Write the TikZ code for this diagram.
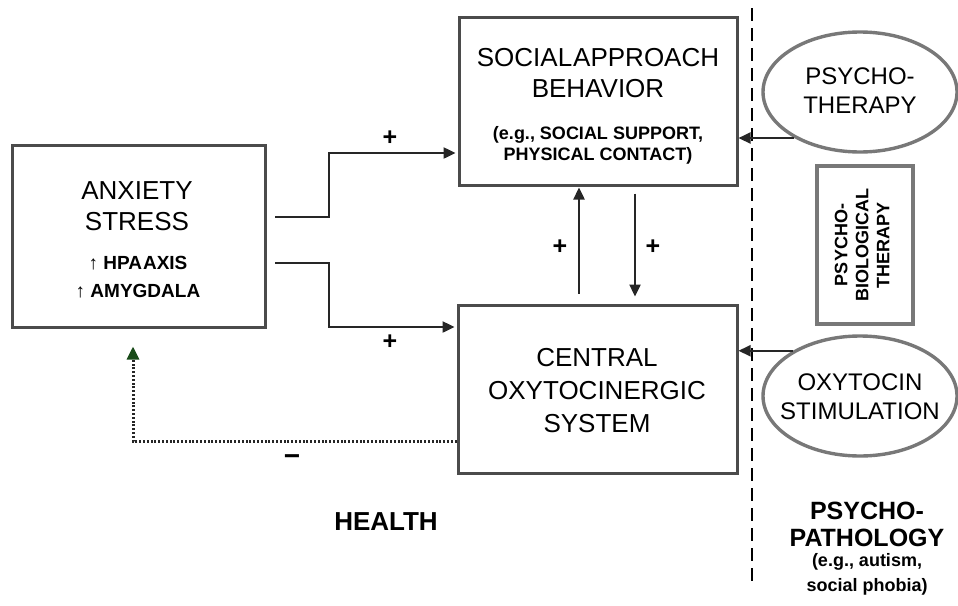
\documentclass[tikz,border=0pt]{standalone}
\usepackage{fontspec}
\setmainfont{Liberation Sans}
\usetikzlibrary{arrows.meta,shapes.geometric,calc}
\definecolor{boxline}{RGB}{75,75,75}
\definecolor{ovalline}{RGB}{120,120,120}
\definecolor{inkgreen}{RGB}{25,75,25}
\begin{document}
\begin{tikzpicture}[x=1pt,y=-1pt,
  panel/.style={draw=boxline,line width=3pt,inner sep=0pt},
  oval/.style={ellipse,draw=ovalline,line width=3.4pt,inner sep=0pt,
    minimum width=194pt,minimum height=120pt},
  ovaltext/.style={inner sep=0pt,align=center,font=\fontsize{24}{29}\selectfont},
  bigtext/.style={inner sep=0pt,align=center,font=\fontsize{26}{31}\selectfont},
  smalltext/.style={inner sep=0pt,align=center,font=\bfseries\fontsize{19}{28}\selectfont},
  heading/.style={inner sep=0pt,align=center,font=\bfseries\fontsize{25}{27}\selectfont},
  sign/.style={inner sep=0pt,font=\bfseries\fontsize{25}{25}\selectfont},
  link/.style={draw=black!85,line width=2.4pt,-{Triangle[length=12pt,width=11pt]}},
  feedback/.style={draw=black!85,line width=3pt,dash pattern=on 2pt off 1.8pt,
    -{Triangle[length=13pt,width=12pt,color=inkgreen]}},
  divider/.style={draw=black,line width=1.6pt,dash pattern=on 13pt off 7pt}]
  \path[use as bounding box] (0,0) rectangle (958,605);

  % boxes
  \node[panel,minimum width=253pt,minimum height=182pt] (anx) at (139,236) {};
  \node[panel,minimum width=278pt,minimum height=168pt] (soc) at (598,101) {};
  \node[panel,minimum width=279pt,minimum height=168pt] (cen) at (597.5,389) {};
  \node[panel,draw=ovalline,line width=4pt,minimum width=96pt,minimum height=158pt] (bio) at (865,245) {};

  % box texts
  \node[bigtext] (anxT) at (137,206) {ANXIETY\\STRESS};
  \node[smalltext] (anxS) at (138,277) {↑ HPA\kern1pt AXIS\\↑ AMYGDALA};
  \node[bigtext] (socT) at (598,73) {SOCIAL\kern1pt APPROACH\\BEHAVIOR};
  \node[smalltext,font=\bfseries\fontsize{18}{21}\selectfont] (socS) at (598,145) {(e.g., SOCIAL SUPPORT,\\PHYSICAL CONTACT)};
  \node[bigtext,font=\fontsize{26}{33}\selectfont] (cenT) at (597,391) {CENTRAL\\OXYTOCINERGIC\\SYSTEM};
  \node[smalltext,rotate=90,font=\bfseries\fontsize{18}{21}\selectfont] (bioT) at (862,245) {PSYCHO-\\BIOLOGICAL\\THERAPY};

  % interventions
  \node[oval] (psy) at (860,92) {};
  \node[ovaltext] (psyT) at (860,91) {PSYCHO-\\THERAPY};
  \node[oval] (oxy) at (860,396) {};
  \node[ovaltext] (oxyT) at (860,397) {OXYTOCIN\\STIMULATION};

  % divider between health and psychopathology
  \coordinate (divTop) at (752,8);
  \coordinate (divBot) at (752,582);
  \draw[divider] (divTop) -- (divBot);

  % headings
  \node[heading,font=\bfseries\fontsize{26}{27}\selectfont] (health) at (386,522) {HEALTH};
  \node[heading] (patho) at (867,524) {PSYCHO-\\PATHOLOGY};
  \node[smalltext,font=\bfseries\fontsize{18}{25}\selectfont] (pathoEx) at (867,574) {(e.g., autism,\\social phobia)};

  % connectors
  \draw[link,shorten <=8pt,shorten >=2pt] ($(anx.east)+(0,-19)$) -- ++(62,0) |- ($(soc.west)+(0,52)$);
  \draw[link,shorten <=8pt,shorten >=2pt] ($(anx.east)+(0,27)$) -- ++(62,0) |- ($(cen.west)+(0,-62)$);
  \draw[link,shorten >=1pt] ($(cen.north)+(-18.5,-10)$) -- ($(soc.south)+(-19,0)$);
  \draw[link] ($(soc.south)+(37,7)$) -- ($(cen.north)+(37.5,-7)$);
  \draw[link,line width=2pt] (psy.215) -- (psy.215 -| soc.east);
  \draw[link,line width=2pt] (oxy.146) -- (oxy.146 -| cen.east);
  \draw[feedback] ($(cen.west)+(0,52)$) -| ($(anx.south)+(-6,18)$);

  % signs
  \node[sign] (pTop) at (390,138) {+};
  \node[sign] (pBot) at (390,342) {+};
  \node[sign] (pUp) at (560,247) {+};
  \node[sign] (pDown) at (653,247) {+};
  \node[sign,font=\bfseries\fontsize{28}{28}\selectfont] (minus) at (292,460) {−};
\end{tikzpicture}
\end{document}
